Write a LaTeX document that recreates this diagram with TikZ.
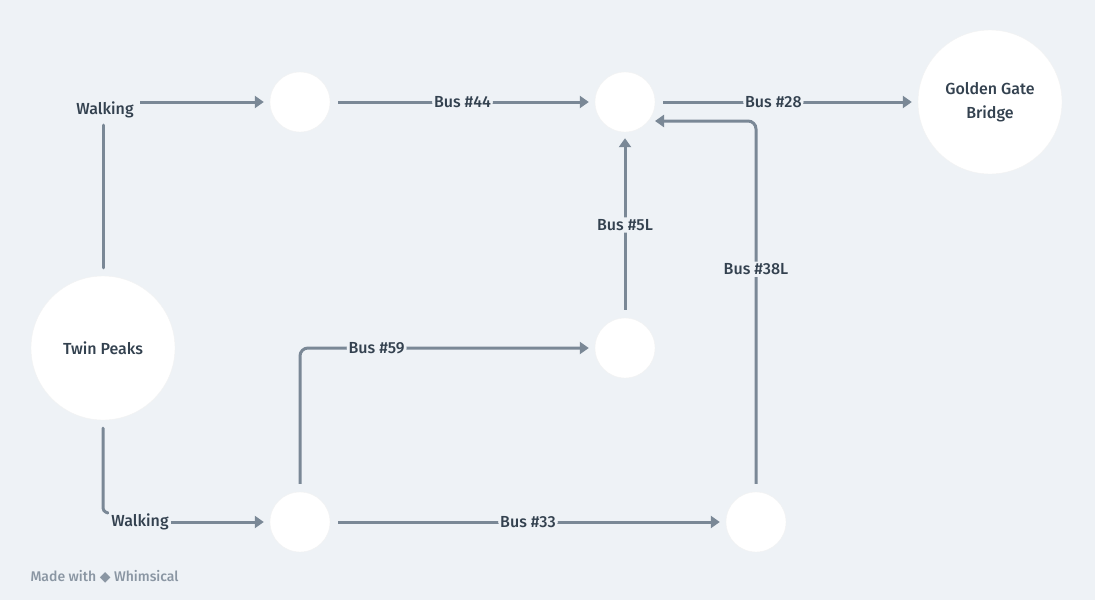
\documentclass[tikz,border=0pt]{standalone}
\usepackage{fontspec}
\setmainfont{Fira Sans}[UprightFont=* Medium,BoldFont=* SemiBold]
\newfontfamily\symf{DejaVu Sans}
\usetikzlibrary{arrows.meta,calc}
\definecolor{bg}{HTML}{EEF2F6}
\definecolor{ln}{HTML}{7A8896}
\definecolor{tx}{HTML}{33414F}
\definecolor{wm}{HTML}{8A96A3}
\tikzset{
  stop/.style={circle,fill=white,draw=white!90!gray,minimum size=#1,inner sep=0pt,text=tx,font=\fontsize{16}{24}\selectfont,align=center},
  conn/.style={draw=ln,line width=3pt,-{Triangle[length=9pt,width=12pt]},shorten >=6pt,shorten <=8pt,rounded corners=8pt},
  plain/.style={draw=ln,line width=3pt,line cap=round},
  lbl/.style={fill=bg,text=tx,font=\fontsize{16}{19}\selectfont,inner sep=2pt}
}
\begin{document}
\begin{tikzpicture}[x=1pt,y=-1pt]
\fill[bg] (0,0) rectangle (1095,600);
\useasboundingbox (0,0) rectangle (1095,600);
\node[stop=144pt] (tp) at (103,348) {Twin Peaks};
\node[stop=60pt] (a) at (300,102) {};
\node[stop=60pt] (b) at (625,102) {};
\node[stop=144pt] (gg) at (990,102) {Golden Gate\\Bridge};
\node[stop=60pt] (c) at (625,348) {};
\node[stop=60pt] (d) at (300,522) {};
\node[stop=60pt] (e) at (756,522) {};
\coordinate (b38) at ($(b.center)+(30,19)$);
% walking top
\draw[plain,shorten <=8pt] (tp.north) -- (103,125);
\node[lbl] (w1) at (105,110) {Walking};
\coordinate (w1s) at (140,102);
\draw[conn,shorten <=0pt] (w1s) -- (a);
% walking bottom
\draw[plain,shorten <=8pt,rounded corners=3pt] (tp.south) -- (103,511) -- (108,513);
\node[lbl] (w2) at (140,522) {Walking};
\draw[conn,shorten <=0pt] (w2.east) -- (d);
\draw[conn] (a) -- node[lbl]{Bus \#44} (b);
\draw[conn] (b) -- node[lbl,pos=0.45]{Bus \#28} (gg);
\draw[conn] (c) -- node[lbl]{Bus \#5L} (b);
\draw[conn] (d) |- node[lbl,pos=0.63]{Bus \#59} (c);
\draw[conn] (d) -- node[lbl]{Bus \#33} (e);
\draw[conn,shorten >=0pt] (e) |- node[lbl,pos=0.3]{Bus \#38L} (b38);
\node[text=wm,font=\fontsize{14}{16}\selectfont,anchor=west] (wm) at (27,577) {Made with {\symf\fontsize{14}{16}\selectfont ◆} Whimsical};
\end{tikzpicture}
\end{document}
